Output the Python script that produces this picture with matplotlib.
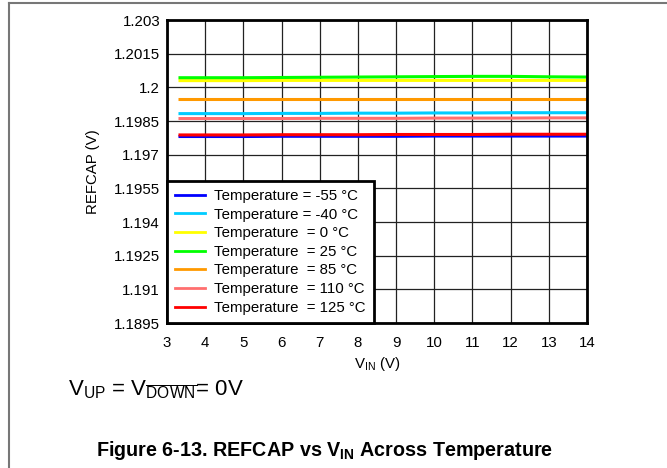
import matplotlib.pyplot as plt
from matplotlib.lines import Line2D
import numpy as np

plt.rcParams['font.family'] = ['Liberation Sans', 'DejaVu Sans']

# Supply voltage sweep (V)
vin = [3.3, 4, 5, 6, 7, 8, 9, 10, 11, 12, 13, 14]

# REFCAP output (V) per temperature
refcap_m55 = [1.19781, 1.19781, 1.19781, 1.19782, 1.19782, 1.19782, 1.19782, 1.19783, 1.19783, 1.19783, 1.19783, 1.19783]
refcap_m40 = [1.19883, 1.19883, 1.19883, 1.19884, 1.19884, 1.19885, 1.19885, 1.19886, 1.19886, 1.19887, 1.19887, 1.19887]
refcap_0 = [1.20030, 1.20030, 1.20030, 1.20031, 1.20031, 1.20031, 1.20031, 1.20031, 1.20031, 1.20031, 1.20031, 1.20031]
refcap_25 = [1.20043, 1.20043, 1.20043, 1.20044, 1.20045, 1.20046, 1.20047, 1.20048, 1.20049, 1.20049, 1.20047, 1.20046]
refcap_85 = [1.19950, 1.19950, 1.19950, 1.19950, 1.19950, 1.19950, 1.19950, 1.19950, 1.19950, 1.19950, 1.19950, 1.19950]
refcap_110 = [1.19861, 1.19861, 1.19861, 1.19861, 1.19862, 1.19862, 1.19862, 1.19863, 1.19863, 1.19863, 1.19864, 1.19864]
refcap_125 = [1.19788, 1.19788, 1.19788, 1.19789, 1.19789, 1.19789, 1.19790, 1.19790, 1.19790, 1.19791, 1.19791, 1.19791]

series = [
    ("Temperature = -55 °C", refcap_m55, "#0000ff"),
    ("Temperature = -40 °C", refcap_m40, "#00ccff"),
    ("Temperature  = 0 °C", refcap_0, "#ffff00"),
    ("Temperature  = 25 °C", refcap_25, "#00ff00"),
    ("Temperature  = 85 °C", refcap_85, "#ff9900"),
    ("Temperature  = 110 °C", refcap_110, "#ff6f6f"),
    ("Temperature  = 125 °C", refcap_125, "#ff0000"),
]

yticks = [1.1895, 1.191, 1.1925, 1.194, 1.1955, 1.197, 1.1985, 1.2, 1.2015, 1.203]

fig = plt.figure(figsize=(6.67, 4.68), dpi=100)
ax = fig.add_axes([0.2504, 0.3098, 0.6297, 0.6474])

for label, vals, color in series:
    ax.plot(vin, vals, color=color, lw=2.2, solid_capstyle='butt')

ax.set_xlim(3, 14)
ax.set_ylim(1.1895, 1.203)
ax.set_xticks(np.arange(3, 15))
ax.set_yticks(yticks)
ax.set_yticklabels(["{:g}".format(v) for v in yticks])
ax.tick_params(length=0, labelsize=10.8)
ax.tick_params(axis='y', pad=5)
ax.tick_params(axis='x', pad=9)
ax.grid(True, color='#222222', lw=0.9)
for s in ax.spines.values():
    s.set_linewidth(2)
    s.set_color('black')

ax.set_xlabel("V$_{\\mathregular{IN}}$ (V)", fontsize=10.8, labelpad=4)
ax.set_ylabel("REFCAP (V)", fontsize=10.8, labelpad=10)

handles = [Line2D([], [], color=c, lw=2) for _, _, c in series]
leg = ax.legend(handles, [s[0] for s in series], loc='lower left',
                bbox_to_anchor=(0, 0), borderaxespad=0, fontsize=10.8,
                frameon=True, fancybox=False, handlelength=1.95,
                handletextpad=0.65, labelspacing=0.31, borderpad=0.55)
leg.get_frame().set_edgecolor('black')
leg.get_frame().set_linewidth(2)
leg.get_frame().set_alpha(1)

fig.text(0.102, 0.168, "V$_{\\mathregular{UP}}$ = V$_{\\mathregular{\\overline{DOWN}}}$= 0V",
         fontsize=16, va='center')
fig.text(0.487, 0.038, "Figure 6-13. REFCAP vs V$_{\\mathregular{IN}}$ Across Temperature",
         fontsize=14.2, fontweight='bold', ha='center', va='center')

# page frame lines (top and left)
fig.add_artist(Line2D([0.013, 1.0], [0.994, 0.994], color='#777777', lw=1.5,
                      transform=fig.transFigure))
fig.add_artist(Line2D([0.013, 0.013], [0.0, 0.994], color='#777777', lw=1.5,
                      transform=fig.transFigure))

fig.savefig("out.png", dpi=100)
